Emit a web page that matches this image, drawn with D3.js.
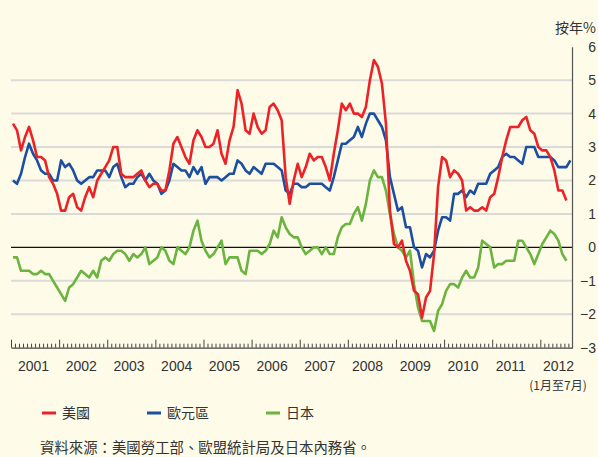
<!DOCTYPE html>
<html><head><meta charset="utf-8">
<script src="https://cdn.jsdelivr.net/npm/d3@7"></script>
<style>
body{margin:0;background:#fefbe9;}
svg{display:block;}
text{font-family:"Liberation Sans","Noto Sans CJK TC",sans-serif;fill:#333;}
.cjk{font-family:"Noto Sans CJK TC","Liberation Sans",sans-serif;}
</style>
</head><body>
<svg id="chart" width="598" height="457"></svg>
<script>
// ---- data ----
const years = ["2001","2002","2003","2004","2005","2006","2007","2008","2009","2010","2011","2012"];
const yTicks = [6,5,4,3,2,1,0,-1,-2,-3];
const seriesNames = ["美國","歐元區","日本"];
const seriesColors = ["#ec2227","#1c4f9f","#6bb440"];
const unitLabel = "按年%";
const lastYearNote = "(1月至7月)";
const sourceNote = "資料來源：美國勞工部、歐盟統計局及日本內務省。";

const usCPI = [
  3.7,3.5,2.9,3.3,3.6,3.2,2.7,2.7,2.6,2.1,1.9,1.6,
  1.1,1.1,1.5,1.6,1.2,1.1,1.5,1.8,1.5,2.0,2.2,2.4,
  2.6,3.0,3.0,2.2,2.1,2.1,2.1,2.2,2.3,2.0,1.8,1.9,
  1.9,1.7,1.7,2.3,3.1,3.3,3.0,2.7,2.5,3.2,3.5,3.3,
  3.0,3.0,3.1,3.5,2.8,2.5,3.2,3.6,4.7,4.3,3.5,3.4,
  4.0,3.6,3.4,3.5,4.2,4.3,4.1,3.8,2.1,1.3,2.0,2.5,
  2.1,2.4,2.8,2.6,2.7,2.7,2.4,2.0,2.8,3.5,4.3,4.1,
  4.3,4.0,4.0,3.9,4.2,5.0,5.6,5.4,4.9,3.7,1.1,0.1,
  0.0,0.2,-0.4,-0.7,-1.3,-1.4,-2.1,-1.5,-1.3,-0.2,1.8,2.7,
  2.6,2.1,2.3,2.2,2.0,1.1,1.2,1.1,1.1,1.2,1.1,1.5,
  1.6,2.1,2.7,3.2,3.6,3.6,3.6,3.8,3.9,3.5,3.4,3.0,
  2.9,2.9,2.7,2.3,1.7,1.7,1.4
];
const euroCPI = [
  2.0,1.9,2.2,2.7,3.1,2.8,2.6,2.3,2.2,2.2,2.0,2.0,
  2.6,2.4,2.5,2.3,2.0,1.9,2.0,2.1,2.1,2.3,2.3,2.3,
  2.1,2.4,2.5,2.1,1.8,1.9,1.9,2.1,2.2,2.0,2.2,2.0,
  1.9,1.6,1.7,2.0,2.5,2.4,2.3,2.3,2.1,2.4,2.2,2.4,
  1.9,2.1,2.1,2.1,2.0,2.1,2.2,2.2,2.6,2.5,2.3,2.2,
  2.4,2.3,2.2,2.5,2.5,2.5,2.4,2.3,1.7,1.6,1.9,1.9,
  1.8,1.8,1.9,1.9,1.9,1.9,1.8,1.7,2.1,2.6,3.1,3.1,
  3.2,3.3,3.6,3.3,3.7,4.0,4.0,3.8,3.6,3.2,2.1,1.6,
  1.1,1.2,0.6,0.6,0.0,-0.1,-0.6,-0.2,-0.3,-0.1,0.5,0.9,
  0.9,0.8,1.6,1.6,1.7,1.5,1.7,1.6,1.9,1.9,1.9,2.2,
  2.3,2.4,2.7,2.8,2.7,2.7,2.6,2.5,3.0,3.0,3.0,2.7,
  2.7,2.7,2.7,2.6,2.4,2.4,2.4,2.6
];
const japanCPI = [
  -0.3,-0.3,-0.7,-0.7,-0.7,-0.8,-0.8,-0.7,-0.8,-0.8,-1.0,-1.2,
  -1.4,-1.6,-1.2,-1.1,-0.9,-0.7,-0.8,-0.9,-0.7,-0.9,-0.4,-0.3,
  -0.4,-0.2,-0.1,-0.1,-0.2,-0.4,-0.2,-0.3,-0.2,0.0,-0.5,-0.4,
  -0.3,0.0,-0.1,-0.4,-0.5,0.0,-0.1,-0.2,0.0,0.5,0.8,0.2,
  -0.1,-0.3,-0.2,0.0,0.2,-0.5,-0.3,-0.3,-0.3,-0.7,-0.8,-0.1,
  -0.1,-0.1,-0.2,-0.1,0.1,0.5,0.3,0.9,0.6,0.4,0.3,0.3,
  0.0,-0.2,-0.1,0.0,0.0,-0.2,0.0,-0.2,-0.2,0.3,0.6,0.7,
  0.7,1.0,1.2,0.8,1.3,2.0,2.3,2.1,2.1,1.7,1.0,0.4,
  0.0,-0.1,-0.3,-0.1,-1.1,-1.8,-2.2,-2.2,-2.2,-2.5,-1.9,-1.7,
  -1.3,-1.1,-1.1,-1.2,-0.9,-0.7,-0.9,-0.9,-0.6,0.2,0.1,0.0,
  -0.6,-0.5,-0.5,-0.4,-0.4,-0.4,0.2,0.2,0.0,-0.2,-0.5,-0.2,
  0.1,0.3,0.5,0.4,0.2,-0.2,-0.4
];

// ---- chart ----
const svg = d3.select("#chart");
const nMonths = 140;
const x = d3.scaleLinear().domain([0, nMonths]).range([11, 572.4]);
const y = d3.scaleLinear().domain([-3, 6]).range([347.7, 46.7]);
const yearLabelX = d3.scalePoint().domain(years).range([33.5, 558.5]);

// gridlines
svg.append("g").selectAll("line")
  .data(yTicks.filter(v => v !== 0 && v !== 6 && v !== -3))
  .join("line")
  .attr("x1", x(0)).attr("x2", 572)
  .attr("y1", d => y(d)).attr("y2", d => y(d))
  .attr("stroke", "#dadada").attr("stroke-width", 2);

// zero line
svg.append("line")
  .attr("x1", x(0)).attr("x2", 572)
  .attr("y1", y(0)).attr("y2", y(0))
  .attr("stroke", "#111").attr("stroke-width", 1.2);

// x axis with monthly ticks
const xAxis = d3.axisBottom(x)
  .tickValues(d3.range(0, nMonths))
  .tickSize(-4).tickSizeOuter(0).tickFormat("");
const gx = svg.append("g").attr("transform", `translate(0,${y(-3)})`).call(xAxis);
gx.select(".domain").attr("stroke", "#444").attr("stroke-width", 1.2);
gx.selectAll(".tick line").attr("stroke", "#444").attr("stroke-width", 1)
  .attr("y2", d => d % 12 === 0 ? -8 : -4);

// year labels
svg.append("g").selectAll("text").data(years).join("text")
  .attr("x", d => yearLabelX(d)).attr("y", 371)
  .attr("text-anchor", "middle").attr("font-size", 14)
  .text(d => d);
svg.append("text").attr("class", "cjk")
  .attr("x", 558).attr("y", 390).attr("text-anchor", "middle")
  .attr("font-size", 12).text(lastYearNote);

// y axis on right
const yAxis = d3.axisRight(y).tickValues(yTicks).tickSize(0).tickSizeOuter(0);
const gy = svg.append("g").attr("transform", "translate(572,0)").call(yAxis);
gy.select(".domain").attr("stroke", "#555").attr("stroke-width", 1.2);
gy.selectAll(".tick text").attr("x", 24).attr("text-anchor", "end")
  .attr("font-size", 14).attr("fill", "#333")
  .attr("font-family", "Liberation Sans, sans-serif");

svg.append("text").attr("class", "cjk")
  .attr("x", 596).attr("y", 33).attr("text-anchor", "end")
  .attr("font-size", 14).text(unitLabel);

// lines
const line = d3.line().x((d, i) => x(i + 0.5)).y(d => y(d));
const allSeries = [japanCPI, euroCPI, usCPI];
const allColors = [seriesColors[2], seriesColors[1], seriesColors[0]];
svg.append("g").selectAll("path").data(allSeries).join("path")
  .attr("d", d => line(d))
  .attr("fill", "none")
  .attr("stroke", (d, i) => allColors[i])
  .attr("stroke-width", 2.6)
  .attr("stroke-linejoin", "round");

// legend
const legendX = [42, 147, 266];
const lg = svg.append("g").selectAll("g").data(seriesNames).join("g")
  .attr("transform", (d, i) => `translate(${legendX[i]},413)`);
lg.append("line").attr("x1", 0).attr("x2", 14).attr("y1", 0).attr("y2", 0)
  .attr("stroke", (d, i) => seriesColors[i]).attr("stroke-width", 3);
lg.append("text").attr("class", "cjk").attr("x", 20).attr("y", 5)
  .attr("font-size", 14).text(d => d);

// source
svg.append("text").attr("class", "cjk")
  .attr("x", 40).attr("y", 453).attr("font-size", 14.4)
  .text(sourceNote);
</script>
</body></html>
